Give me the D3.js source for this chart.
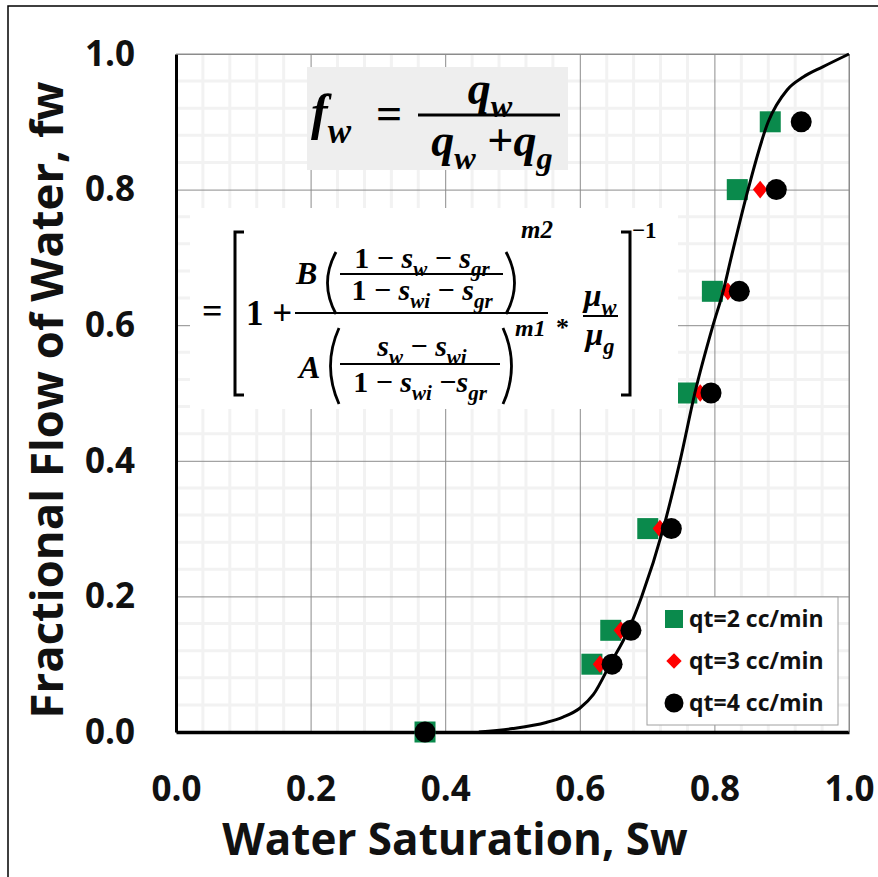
<!DOCTYPE html>
<html>
<head>
<meta charset="utf-8">
<script src="https://cdn.jsdelivr.net/npm/d3@7/dist/d3.min.js"></script>
<style>
  body { margin: 0; background: #fff; }
  text { font-family: "Open Sans", sans-serif; font-weight: bold; }
</style>
</head>
<body>
<svg id="chart" width="878" height="877"></svg>
<script>
/* data */
var xTicks = [0, 0.2, 0.4, 0.6, 0.8, 1.0];
var yTicks = [0, 0.2, 0.4, 0.6, 0.8, 1.0];
var fwLevels = [0, 0.1, 0.15, 0.3, 0.5, 0.65, 0.8, 0.9];
var swQt2 = [0.370, 0.618, 0.646, 0.701, 0.759, 0.797, 0.834, 0.883];
var swQt3 = [0.370, 0.630, 0.661, 0.719, 0.779, 0.820, 0.868, null];
var swQt4 = [0.370, 0.648, 0.676, 0.736, 0.795, 0.837, 0.892, 0.929];
var modelSw = [0.45, 0.50, 0.55, 0.575, 0.60, 0.62, 0.645, 0.672, 0.692, 0.724, 0.749, 0.771, 0.798, 0.813, 0.825, 0.850, 0.880, 0.908, 0.932, 0.961, 1.0];
var modelFw = [0, 0.005, 0.014, 0.022, 0.035, 0.055, 0.1, 0.15, 0.2, 0.3, 0.4, 0.5, 0.6, 0.65, 0.7, 0.8, 0.9, 0.947, 0.966, 0.981, 1.0];
var legendLabels = ["qt=2 cc/min", "qt=3 cc/min", "qt=4 cc/min"];
var xLegend = "Water Saturation, Sw",
    yLegend = "Fractional Flow of Water, fw";

/* settings */
var width = 878, height = 877,
    margin = { top: 54, left: 176, right: 29, bottom: 145 },
    innerWidth = width - margin.left - margin.right,
    innerHeight = height - margin.top - margin.bottom,
    green = "#0a8a4c", red = "#ff0000";

var svg = d3.select("#chart");

// outer frame
svg.append("rect")
    .attr("x", 8).attr("y", 6)
    .attr("width", 890).attr("height", 890)
    .attr("fill", "none").attr("stroke", "#000").attr("stroke-width", 1.5);

var g = svg.append("g")
    .attr("id", "plot")
    .attr("transform", "translate(" + margin.left + "," + margin.top + ")");

var xScale = d3.scaleLinear().domain([0, 1]).range([0, innerWidth]);
var yScale = d3.scaleLinear().domain([0, 1]).range([innerHeight, 0]);

/* minor grid */
var minor = d3.range(1, 25).map(function(i) { return i * 0.04; })
    .filter(function(v, i) { return (i + 1) % 5 != 0; });

g.append("g").selectAll("line").data(minor).enter().append("line")
    .attr("x1", function(d) { return xScale(d); })
    .attr("x2", function(d) { return xScale(d); })
    .attr("y1", 0).attr("y2", innerHeight)
    .attr("stroke", "#f2f2f2").attr("stroke-width", 3);
g.append("g").selectAll("line").data(minor).enter().append("line")
    .attr("y1", function(d) { return yScale(d); })
    .attr("y2", function(d) { return yScale(d); })
    .attr("x1", 0).attr("x2", innerWidth)
    .attr("stroke", "#f2f2f2").attr("stroke-width", 3);

/* major grid */
g.append("g").attr("class", "x-grid")
    .attr("transform", "translate(0," + innerHeight + ")")
    .call(d3.axisBottom(xScale).tickValues(xTicks).tickSize(-innerHeight).tickFormat(""))
    .call(function(s) { s.select(".domain").remove(); s.selectAll("text").remove(); })
    .selectAll("line").attr("stroke", "#8c8c8c");
g.append("g").attr("class", "y-grid")
    .call(d3.axisLeft(yScale).tickValues(yTicks).tickSize(-innerWidth).tickFormat(""))
    .call(function(s) { s.select(".domain").remove(); s.selectAll("text").remove(); })
    .selectAll("line").attr("stroke", "#8c8c8c");

/* formula boxes */
svg.append("rect").attr("x", 307).attr("y", 67).attr("width", 261).attr("height", 103)
    .attr("fill", "#eeeeee");
svg.append("rect").attr("x", 190).attr("y", 208).attr("width", 488).attr("height", 201)
    .attr("fill", "#ffffff");

/* axes */
var xAxisG = g.append("g").attr("class", "x-axis")
    .attr("transform", "translate(0," + innerHeight + ")")
    .call(d3.axisBottom(xScale).tickValues(xTicks).tickSize(0).tickPadding(44).tickFormat(d3.format(".1f")));
xAxisG.select(".domain").attr("stroke-width", 3.5).attr("stroke", "#000");
xAxisG.selectAll("text").attr("font-size", 35).attr("fill", "#111")
    .style("font-family", "'Open Sans', sans-serif");

var yAxisG = g.append("g").attr("class", "y-axis")
    .call(d3.axisLeft(yScale).tickValues(yTicks).tickSize(0).tickPadding(41).tickFormat(d3.format(".1f")));
yAxisG.select(".domain").attr("stroke-width", 3).attr("stroke", "#000");
yAxisG.selectAll("text").attr("font-size", 35).attr("fill", "#111")
    .style("font-family", "'Open Sans', sans-serif");

// thin top and right frame of the plot
g.append("line").attr("x1", 0).attr("x2", innerWidth).attr("y1", 0).attr("y2", 0)
    .attr("stroke", "#8c8c8c");
g.append("line").attr("x1", innerWidth).attr("x2", innerWidth).attr("y1", 0).attr("y2", innerHeight)
    .attr("stroke", "#8c8c8c");

/* axis titles */
svg.append("text")
    .attr("x", 455).attr("y", 855)
    .attr("text-anchor", "middle").attr("font-size", 44).attr("fill", "#111")
    .text(xLegend);
svg.append("text")
    .attr("transform", "translate(63,400) rotate(-90)")
    .attr("text-anchor", "middle").attr("font-size", 45.5).attr("fill", "#111")
    .text(yLegend);

/* points */
function pts(sw) {
  return sw.map(function(v, i) { return { sw: v, fw: fwLevels[i] }; })
    .filter(function(d) { return d.sw != null; });
}

g.append("g").selectAll("rect").data(pts(swQt2)).enter().append("rect")
    .attr("x", function(d) { return xScale(d.sw) - 10.5; })
    .attr("y", function(d) { return yScale(d.fw) - 10.5; })
    .attr("width", 21).attr("height", 21)
    .attr("fill", green);

g.append("g").selectAll("path").data(pts(swQt3)).enter().append("path")
    .attr("d", d3.symbol().type(d3.symbolDiamond2).size(165))
    .attr("transform", function(d) { return "translate(" + xScale(d.sw) + "," + yScale(d.fw) + ") scale(0.9,1.1)"; })
    .attr("fill", red);

g.append("g").selectAll("circle").data(pts(swQt4)).enter().append("circle")
    .attr("cx", function(d) { return xScale(d.sw); })
    .attr("cy", function(d) { return yScale(d.fw); })
    .attr("r", 10.5)
    .attr("fill", "#000");

/* model curve */
var line = d3.line()
    .x(function(d) { return xScale(d[0]); })
    .y(function(d) { return yScale(d[1]); })
    .curve(d3.curveMonotoneX);

g.append("path")
    .datum(d3.zip(modelSw, modelFw))
    .attr("fill", "none")
    .attr("stroke", "#000")
    .attr("stroke-width", 3)
    .attr("stroke-linejoin", "round")
    .attr("d", line);

/* legend */
var legend = svg.append("g").attr("class", "legend");
legend.append("rect").attr("x", 647).attr("y", 597).attr("width", 191).attr("height", 128)
    .attr("fill", "#fff").attr("stroke", "#a0a0a0");
var rows = legend.selectAll(".row").data(legendLabels).enter().append("g")
    .attr("class", "row")
    .attr("transform", function(d, i) { return "translate(674," + (619 + i * 42) + ")"; });
rows.filter(function(d, i) { return i == 0; }).append("rect")
    .attr("x", -9).attr("y", -9).attr("width", 18).attr("height", 18).attr("fill", green);
rows.filter(function(d, i) { return i == 1; }).append("path")
    .attr("d", d3.symbol().type(d3.symbolDiamond2).size(150)).attr("fill", red);
rows.filter(function(d, i) { return i == 2; }).append("circle")
    .attr("r", 9.5).attr("fill", "#000");
rows.append("text")
    .attr("x", 15).attr("dy", "0.35em")
    .attr("font-size", 23).attr("fill", "#111")
    .text(function(d) { return d; });

/* formulas */
var mathFont = "'Liberation Serif', serif";

function mtext(sel, x, y, size, parts, anchor) {
  // parts: [string, mode]  mode: i italic, r roman, s subscript, p superscript
  var t = sel.append("text")
      .attr("x", x).attr("y", y)
      .attr("font-size", size)
      .attr("text-anchor", anchor || "start")
      .attr("fill", "#000")
      .style("font-family", mathFont);
  var shift = 0;
  parts.forEach(function(p) {
    var target = p[1] == "s" ? size * 0.28 : (p[1] == "p" ? -size * 0.45 : 0);
    var ts = t.append("tspan").text(p[0])
        .attr("dy", target - shift)
        .style("font-style", p[1] == "r" ? "normal" : "italic");
    if (p[1] == "s" || p[1] == "p") ts.attr("font-size", size * 0.7);
    shift = target;
  });
  return t;
}

function hbar(sel, x1, x2, y, w) {
  sel.append("line").attr("x1", x1).attr("x2", x2).attr("y1", y).attr("y2", y)
      .attr("stroke", "#000").attr("stroke-width", w || 2);
}

function paren(sel, x, y1, y2, dir) {
  // dir -1 left paren, +1 right paren
  var bulge = 17 * dir;
  sel.append("path")
      .attr("d", "M" + x + "," + y1 + " Q" + (x + bulge) + "," + ((y1 + y2) / 2) + " " + x + "," + y2)
      .attr("fill", "none").attr("stroke", "#000").attr("stroke-width", 2.8);
}

var f = svg.append("g").attr("class", "formulas");
var MINUS = "\u2212";

// f_w = q_w / (q_w + q_g)
mtext(f, 311, 129, 50, [["f", "i"], ["w", "s"]]);
mtext(f, 376, 129, 46, [["=", "r"]]);
hbar(f, 418, 560, 115, 2.8);
mtext(f, 490, 104, 46, [["q", "i"], ["w", "s"]], "middle");
mtext(f, 492, 156, 46, [["q", "i"], ["w", "s"], [" +", "r"], ["q", "i"], ["g", "s"]], "middle");

// second expression
mtext(f, 202, 323, 36, [["=", "r"]]);
f.append("path").attr("d", "M244,232 H235 V395 H244")
    .attr("fill", "none").attr("stroke", "#000").attr("stroke-width", 3);
f.append("path").attr("d", "M621,232 H630 V395 H621")
    .attr("fill", "none").attr("stroke", "#000").attr("stroke-width", 3);
mtext(f, 632, 238, 23, [[MINUS + "1", "r"]]);
mtext(f, 246, 325, 35, [["1 +", "r"]]);
hbar(f, 295, 548, 313, 2);

// numerator B(...)^m2
mtext(f, 296, 284, 32, [["B", "i"]]);
paren(f, 336, 252, 314, -1);
paren(f, 506, 252, 314, 1);
mtext(f, 422, 268, 30, [["1 " + MINUS + " ", "r"], ["s", "i"], ["w", "s"], [" " + MINUS + " ", "r"], ["s", "i"], ["gr", "s"]], "middle");
hbar(f, 340, 503, 274, 2);
mtext(f, 422, 300, 30, [["1 " + MINUS + " ", "r"], ["s", "i"], ["wi", "s"], [" " + MINUS + " ", "r"], ["s", "i"], ["gr", "s"]], "middle");
mtext(f, 521, 238, 25, [["m2", "i"]]);

// denominator A(...)^m1
mtext(f, 299, 378, 32, [["A", "i"]]);
paren(f, 339, 328, 404, -1);
paren(f, 503, 328, 404, 1);
mtext(f, 422, 356, 30, [["s", "i"], ["w", "s"], [" " + MINUS + " ", "r"], ["s", "i"], ["wi", "s"]], "middle");
hbar(f, 340, 500, 364, 2);
mtext(f, 420, 392, 30, [["1 " + MINUS + " ", "r"], ["s", "i"], ["wi", "s"], [" " + MINUS, "r"], ["s", "i"], ["gr", "s"]], "middle");
mtext(f, 515, 336, 24, [["m1", "i"]]);

// * mu_w / mu_g
mtext(f, 556, 336, 26, [["*", "r"]]);
hbar(f, 583, 618, 316, 2);
mtext(f, 600, 306, 32, [["\u03bc", "i"], ["w", "s"]], "middle");
mtext(f, 600, 345, 32, [["\u03bc", "i"], ["g", "s"]], "middle");
</script>
</body>
</html>
